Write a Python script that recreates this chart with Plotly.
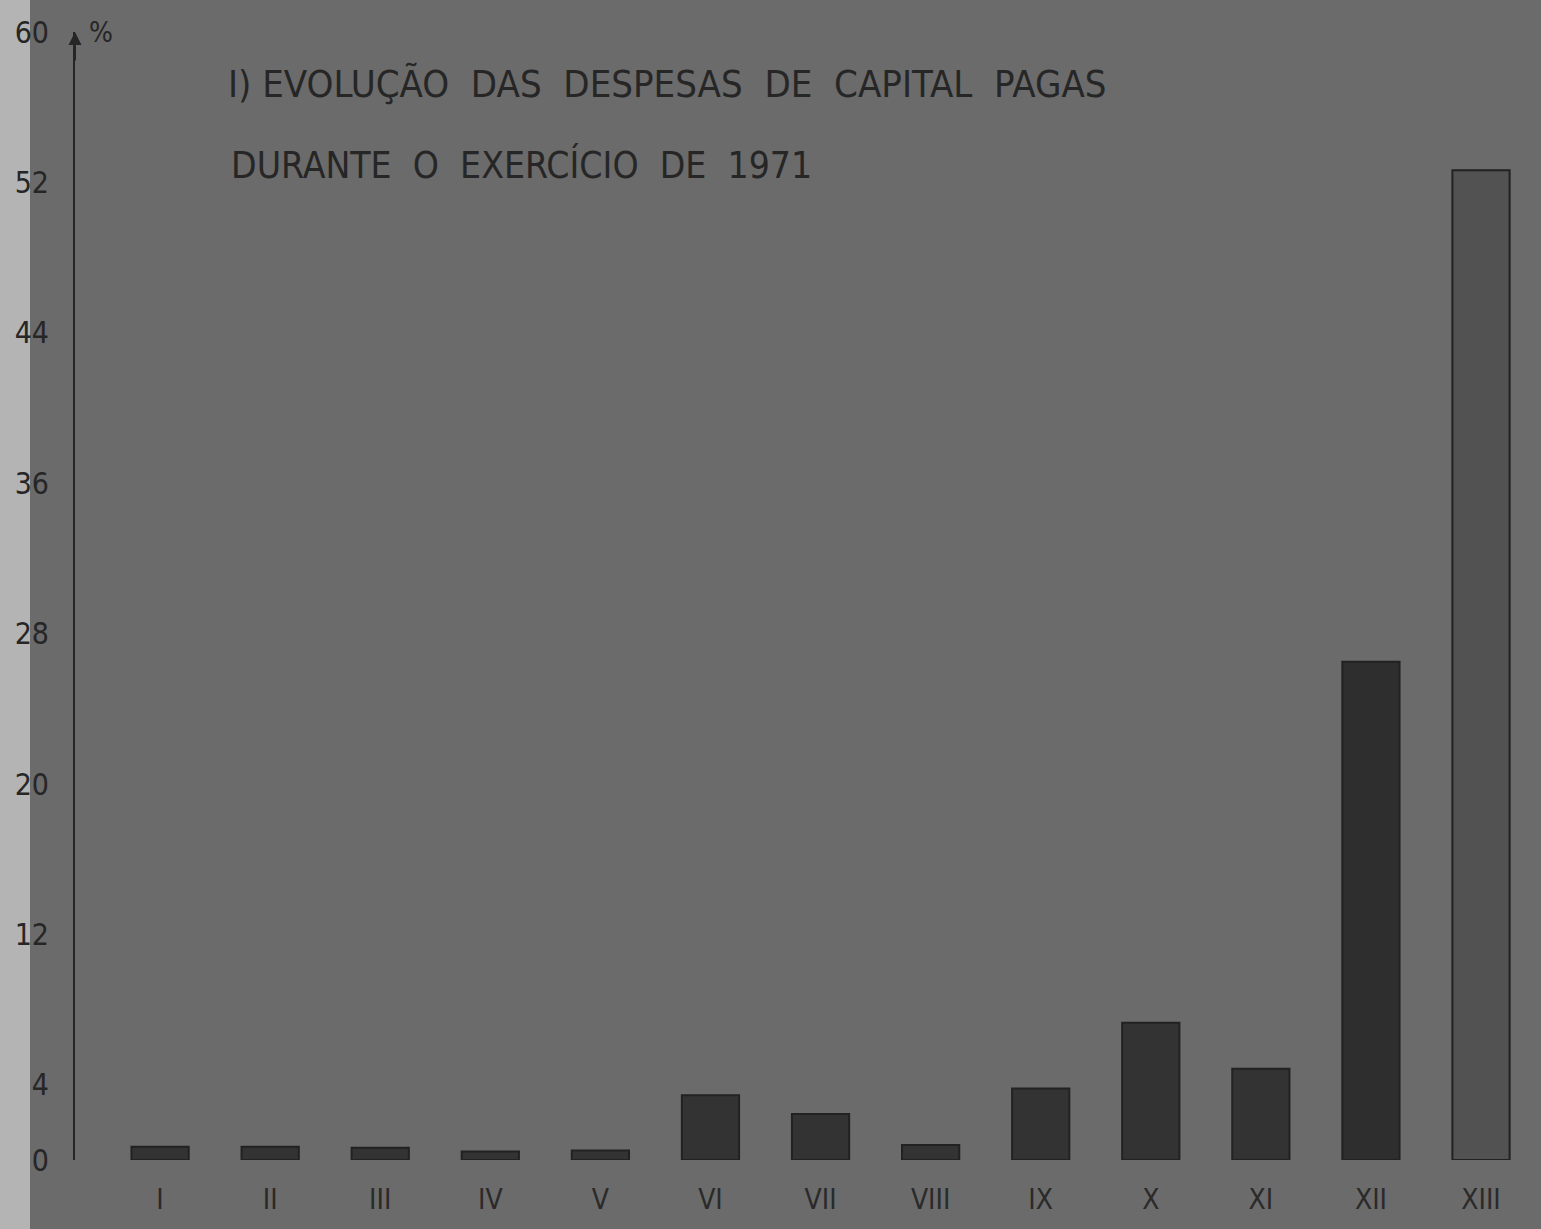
import plotly.graph_objects as go

months = ["I", "II", "III", "IV", "V", "VI", "VII", "VIII", "IX", "X", "XI", "XII", "XIII"]
values = [0.7, 0.7, 0.65, 0.45, 0.5, 3.45, 2.45, 0.8, 3.8, 7.3, 4.85, 26.5, 52.65]
y_ticks = [0, 4, 12, 20, 28, 36, 44, 52, 60]
title_lines = ["I) EVOLUÇÃO  DAS  DESPESAS  DE  CAPITAL  PAGAS",
               "DURANTE  O  EXERCÍCIO  DE  1971"]

positions = list(range(len(months)))
bar_colors = ["#333333"] * 11 + ["#2e2e2e", "#525252"]

fig = go.Figure()
fig.add_trace(go.Bar(
    x=positions, y=values, width=0.52,
    marker=dict(color=bar_colors, line=dict(color="#222222", width=2)),
    showlegend=False,
))

font_family = "DejaVu Sans Condensed, Liberation Sans Narrow, DejaVu Sans, sans-serif"

fig.update_layout(
    width=1541, height=1229,
    margin=dict(l=75, r=0, t=32, b=69),
    paper_bgcolor="#6b6b6b",
    plot_bgcolor="#6b6b6b",
    font=dict(family=font_family, color="#262626", size=28),
    xaxis=dict(
        range=[-0.773, 12.545],
        tickmode="array", tickvals=positions, ticktext=months,
        showgrid=False, zeroline=False, showline=False,
        ticks="", ticklabelstandoff=20, tickfont=dict(size=28, color="#2a2a2a"),
    ),
    yaxis=dict(
        range=[0, 60],
        tickmode="array", tickvals=y_ticks, ticktext=[str(v) for v in y_ticks],
        showgrid=False, zeroline=False,
        showline=True, linecolor="#262626", linewidth=2,
        ticks="", ticklabelstandoff=18,
        tickfont=dict(size=30, color="#262626"),
    ),
    shapes=[
        dict(type="rect", xref="paper", yref="paper", x0=-75/1466, x1=-45/1466,
             y0=-69/1128, y1=1 + 32/1128, fillcolor="#b4b4b4", line=dict(width=0),
             layer="below"),
    ],
    annotations=[
        dict(x=0, y=60, xref="paper", yref="y", ax=0, ay=30, showarrow=True,
             arrowhead=2, arrowsize=1.3, arrowwidth=2, arrowcolor="#262626", text=""),
        dict(x=12 / 1466, y=60, xref="paper", yref="y", text="%", showarrow=False,
             xanchor="left", yanchor="middle", font=dict(size=28, color="#262626")),
        dict(x=151 / 1466, y=1 - (84 - 32) / 1128, xref="paper", yref="paper",
             text=title_lines[0], showarrow=False, xanchor="left", yanchor="middle",
             font=dict(size=38, color="#262626")),
        dict(x=154 / 1466, y=1 - (165 - 32) / 1128, xref="paper", yref="paper",
             text=title_lines[1], showarrow=False, xanchor="left", yanchor="middle",
             font=dict(size=37, color="#262626")),
    ],
)

fig.write_html("out.html",
               config={"displayModeBar": False},
               post_script="document.body.style.margin='0';document.body.style.background='#6b6b6b';")
